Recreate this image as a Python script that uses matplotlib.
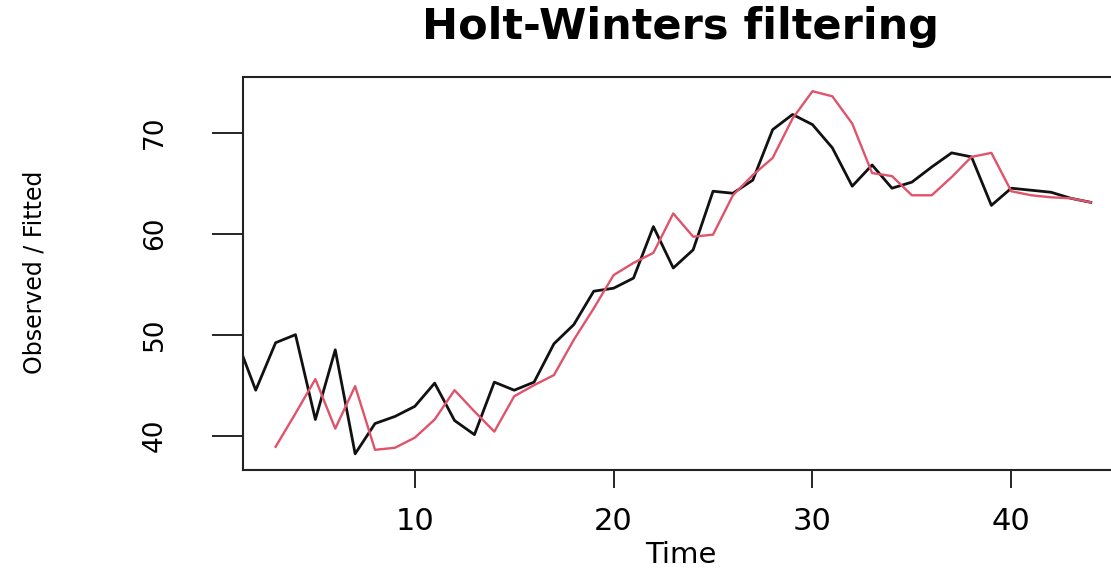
import matplotlib
matplotlib.use("Agg")
import matplotlib.pyplot as plt

# observed series, time 1..44
time = list(range(1, 45))
observed = [49.7, 44.5, 49.2, 50.0, 41.6, 48.5, 38.2, 41.2, 41.9, 42.9,
            45.2, 41.5, 40.1, 45.3, 44.5, 45.3, 49.1, 51.0, 54.3, 54.6,
            55.6, 60.7, 56.6, 58.4, 64.2, 64.0, 65.3, 70.3, 71.8, 70.8,
            68.5, 64.7, 66.8, 64.5, 65.1, 66.6, 68.0, 67.6, 62.8, 64.5,
            64.3, 64.1, 63.5, 63.1]

# fitted values start at time 3
fit_time = list(range(3, 45))
fitted = [38.9, 42.2, 45.6, 40.7, 44.9, 38.6, 38.8, 39.8, 41.6, 44.5,
          42.4, 40.4, 43.9, 45.0, 46.0, 49.5, 52.6, 55.9, 57.1, 58.1,
          62.0, 59.7, 59.9, 63.8, 65.8, 67.5, 71.4, 74.1, 73.6, 70.9,
          66.0, 65.7, 63.8, 63.8, 65.6, 67.6, 68.0, 64.2, 63.8, 63.6,
          63.5, 63.1]

x_ticks = [10, 20, 30, 40]
y_ticks = [40, 50, 60, 70]

plt.rcParams['font.family'] = ['DejaVu Sans']

fig = plt.figure(figsize=(11.11, 5.71), dpi=100)
ax = fig.add_axes([243 / 1111, 101 / 571, 882 / 1111, 393.3 / 571])

ax.plot(time, observed, color="#111111", linewidth=2.0)
ax.plot(fit_time, fitted, color="#DF536B", linewidth=1.7)

ax.set_xlim(1.36, 45.72)
ax.set_ylim(36.6, 75.54)

ax.set_xticks(x_ticks)
ax.set_yticks(y_ticks)
ax.set_xticklabels([str(v) for v in x_ticks], fontsize=22)
ax.set_yticklabels([str(v) for v in y_ticks], fontsize=19, rotation=90, va="center")
ax.tick_params(axis="x", length=13, width=1.2, pad=14)
ax.tick_params(axis="y", length=22, width=1.2, pad=32)

for side in ["left", "bottom", "top"]:
    ax.spines[side].set_linewidth(1.5)
    ax.spines[side].set_color("#222222")
ax.spines["right"].set_visible(False)

fig.text(681 / 1111, 1 - 27 / 571, "Holt-Winters filtering", fontsize=31,
         fontweight="bold", ha="center", va="center")
fig.text(681 / 1111, 1 - 555 / 571, "Time", fontsize=21, ha="center", va="center")
fig.text(35 / 1111, 1 - 272 / 571, "Observed / Fitted", fontsize=17,
         rotation=90, ha="center", va="center")

fig.savefig("out.png", dpi=100)
